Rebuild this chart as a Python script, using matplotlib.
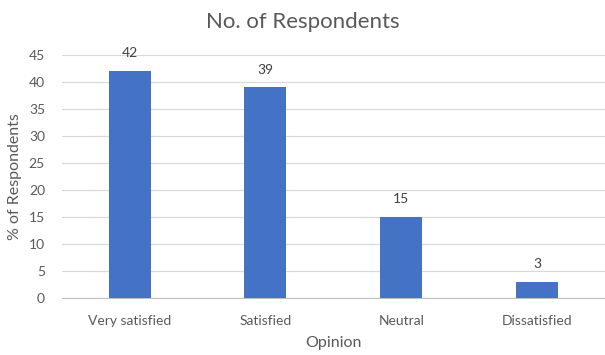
import matplotlib
matplotlib.use("Agg")
import matplotlib.pyplot as plt

# survey results
opinions = ["Very satisfied", "Satisfied", "Neutral", "Dissatisfied"]
respondents = [42, 39, 15, 3]
y_ticks = [0, 5, 10, 15, 20, 25, 30, 35, 40, 45]

plt.rcParams['font.family'] = ['Lato', 'DejaVu Sans']
text_color = '#595959'

fig = plt.figure(figsize=(6.05, 3.55), dpi=100)
ax = fig.add_axes([0.102, 0.161, 0.898, 0.684])

x = range(len(opinions))
ax.bar(x, respondents, width=0.31, color='#4472C4', zorder=3)

# value labels above each bar
for xi, v in zip(x, respondents):
    ax.text(xi, v + 3.3, str(v), ha='center', va='center',
            fontsize=10, color='#404040')

ax.set_xlim(-0.5, len(opinions) - 0.5)
ax.set_ylim(0, 45)
ax.set_yticks(y_ticks)
ax.set_xticks(list(x))
ax.set_xticklabels(opinions)

ax.yaxis.grid(True, color='#D9D9D9', linewidth=0.9, zorder=0)
for side in ['top', 'right', 'left']:
    ax.spines[side].set_visible(False)
ax.spines['bottom'].set_color('#BFBFBF')
ax.tick_params(axis='both', length=0, colors=text_color, labelsize=10)
ax.tick_params(axis='x', pad=12)
ax.tick_params(axis='y', pad=12)

ax.set_xlabel('Opinion', fontsize=11.5, color=text_color, labelpad=7)
ax.set_ylabel('% of Respondents', fontsize=11.5, color=text_color, labelpad=5)
fig.suptitle('No. of Respondents', fontsize=16, color=text_color, y=0.965)

fig.savefig('out.png', dpi=100)
